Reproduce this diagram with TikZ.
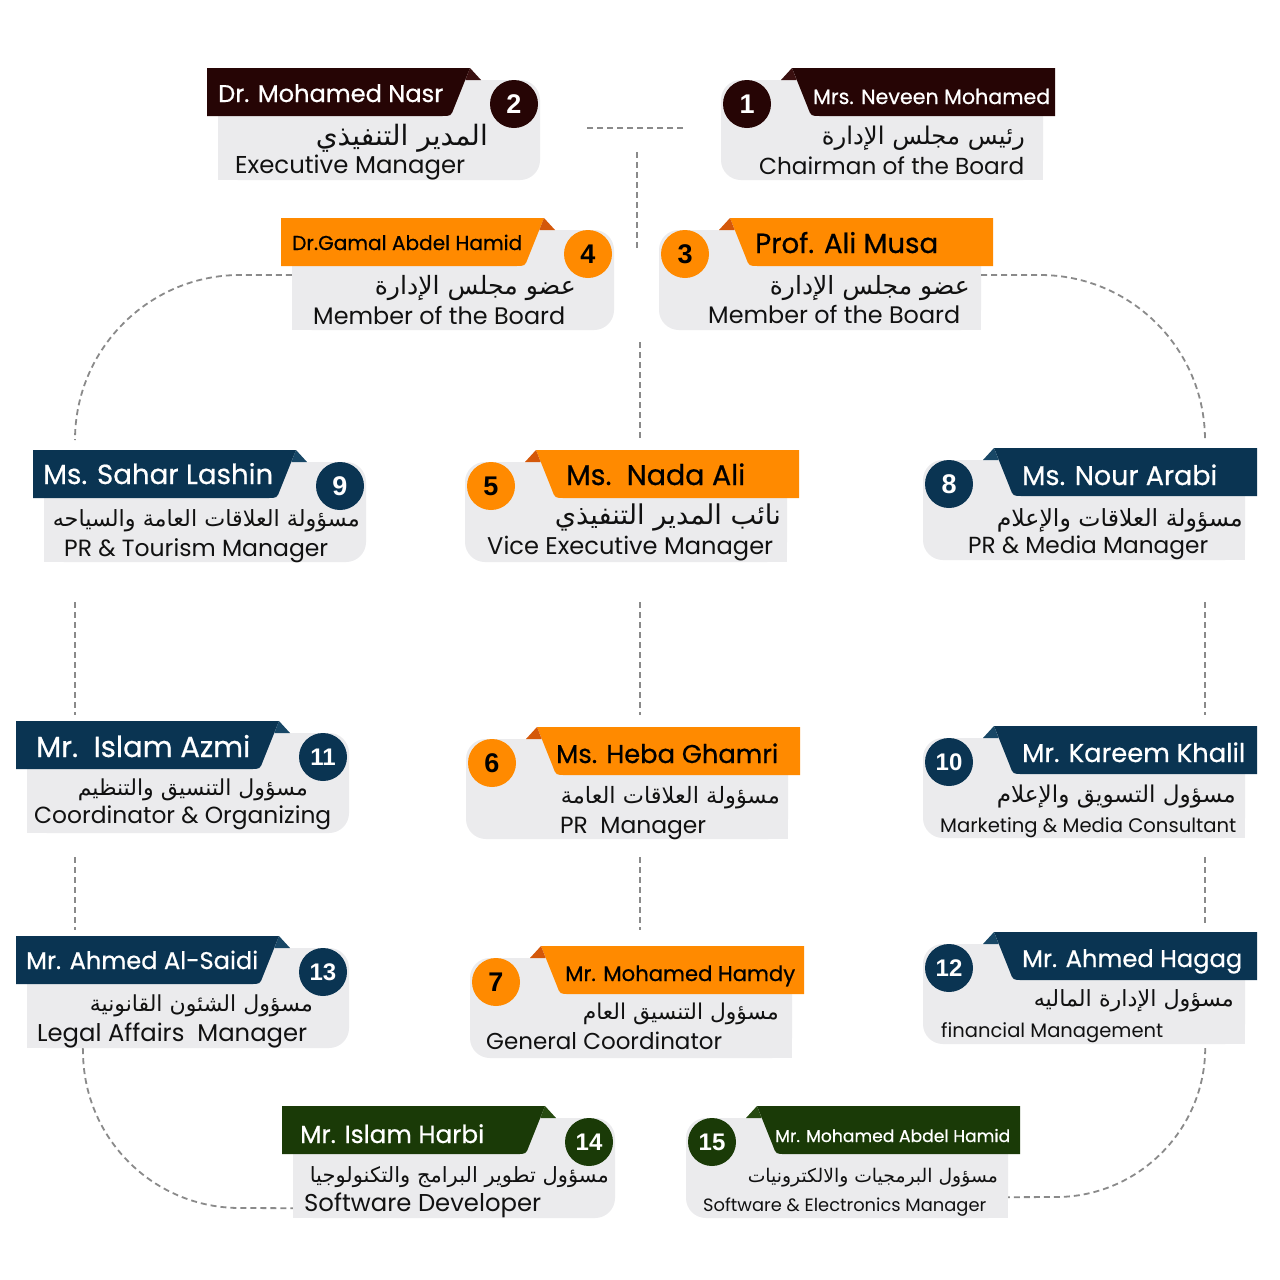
\documentclass[tikz,border=0pt]{standalone}
\usepackage{fontspec}
\usepackage{graphicx}
\setmainfont{Poppins}
\newfontfamily\namefont[FakeBold=0.6]{Poppins}
\newfontfamily\arabicfont[Script=Arabic]{DejaVu Sans}
\newfontfamily\numfont{Liberation Sans}
\TeXXeTstate=1
\definecolor{cardgray}{HTML}{EBEBED}
\definecolor{maroon}{HTML}{260505}
\definecolor{maroonf}{HTML}{3A1010}
\definecolor{orng}{HTML}{FF8A00}
\definecolor{orngf}{HTML}{D4580A}
\definecolor{navy}{HTML}{0A3452}
\definecolor{navyf}{HTML}{184766}
\definecolor{dgreen}{HTML}{1A3A07}
\definecolor{dgreenf}{HTML}{264A10}
\definecolor{connc}{HTML}{8A8A8A}
\definecolor{txtc}{HTML}{111111}
\newcommand{\fitw}[2]{\resizebox{#1pt}{!}{#2}}
\newcommand{\arab}[1]{{\arabicfont\beginR #1\endR}}
\tikzset{
  cardnode/.style={inner sep=0pt, minimum width=322pt, minimum height=100pt},
  numcircle/.style={circle, minimum size=48pt, inner sep=0pt, font=\numfont\bfseries\fontsize{27}{27}\selectfont},
  numtwo/.style={font=\numfont\bfseries\fontsize{24}{24}\selectfont},
  txt/.style={inner sep=0pt, text=txtc},
  nm/.style={inner sep=0pt, anchor=base west, font=\namefont},
  ar/.style={inner sep=0pt, anchor=east, text=txtc},
  en/.style={inner sep=0pt, anchor=base west, text=txtc},
  conn/.style={draw=connc, line width=1.8pt, dash pattern=on 6pt off 4pt},
}
% left-type card: header on the left, number on the right
\newcommand{\cardL}[8]{%
  \fill[cardgray,rounded corners=20pt] (#2,#3) rectangle (#2+322,#3+100);
  \fill[cardgray] (#2,#3) rectangle (#2+100,#3+100);
  \node[cardnode] (#1) at (#2+161,#3+50) {};
  \fill[#4] (#2-11,#3-12) -- (#2+252,#3-12) -- (#2+236,#3+28) .. controls (#2+233,#3+36) .. (#2+224,#3+36) -- (#2-11,#3+36) -- cycle;
  \fill[#5] (#2+252,#3-12) -- (#2+263,#3) -- (#2+247.3,#3) -- cycle;
  \node[numcircle,fill=#4,text=#7,#8] (#1n) at (#2+296,#3+24) {#6};
}
% right-type card: number on the left, header on the right
\newcommand{\cardR}[8]{%
  \fill[cardgray,rounded corners=20pt] (#2,#3) rectangle (#2+322,#3+100);
  \fill[cardgray] (#2+222,#3) rectangle (#2+322,#3+100);
  \node[cardnode] (#1) at (#2+161,#3+50) {};
  \fill[#4] (#2+334,#3-12) -- (#2+71,#3-12) -- (#2+87,#3+28) .. controls (#2+90,#3+36) .. (#2+99,#3+36) -- (#2+334,#3+36) -- cycle;
  \fill[#5] (#2+71,#3-12) -- (#2+60,#3) -- (#2+75.7,#3) -- cycle;
  \node[numcircle,fill=#4,text=#7,#8] (#1n) at (#2+26,#3+24) {#6};
}
\begin{document}
\begin{tikzpicture}[x=1pt,y=-1pt]
\useasboundingbox (0,0) rectangle (1280,1280);
\fill[white] (0,0) rectangle (1280,1280);

% free ends of the trunk lines
\coordinate (h1) at (587,128);
\coordinate (h2) at (685,128);
\coordinate (va1) at (637,152);
\coordinate (va2) at (637,250);
\coordinate (vb1) at (640,342);
\coordinate (vb2) at (640,440);
\coordinate (vc1) at (640,602);
\coordinate (vc2) at (640,715);
\coordinate (vd1) at (640,857);
\coordinate (vd2) at (640,930);
\coordinate (la1) at (75,602);
\coordinate (la2) at (75,715);
\coordinate (lb1) at (75,857);
\coordinate (lb2) at (75,930);
\coordinate (ra1) at (1205,602);
\coordinate (ra2) at (1205,715);
\coordinate (rb1) at (1205,857);
\coordinate (rb2) at (1205,926);
\coordinate (lt) at (75,440);
\coordinate (rt) at (1205,440);

% cards
\cardL{c2}{218}{80}{maroon}{maroonf}{2}{white}{}
\cardR{c1}{721}{80}{maroon}{maroonf}{1}{white}{}
\cardL{c4}{292}{230}{orng}{orngf}{4}{black}{}
\cardR{c3}{659}{230}{orng}{orngf}{3}{black}{}
\cardL{c9}{44}{462}{navy}{navyf}{9}{white}{}
\cardR{c5}{465}{462}{orng}{orngf}{5}{black}{}
\cardR{c8}{923}{460}{navy}{navyf}{8}{white}{}
\cardL{c11}{27}{733}{navy}{navyf}{11}{white}{numtwo}
\cardR{c6}{466}{739}{orng}{orngf}{6}{black}{}
\cardR{c10}{923}{738}{navy}{navyf}{10}{white}{numtwo}
\cardL{c13}{27}{948}{navy}{navyf}{13}{white}{numtwo}
\cardR{c7}{470}{958}{orng}{orngf}{7}{black}{}
\cardR{c12}{923}{944}{navy}{navyf}{12}{white}{numtwo}
\cardL{c14}{293}{1118}{dgreen}{dgreenf}{14}{white}{numtwo}
\cardR{c15}{686}{1118}{dgreen}{dgreenf}{15}{white}{numtwo}

% connectors
\draw[conn] (h1) -- (h2);
\draw[conn] (va1) -- (va2);
\draw[conn] (vb1) -- (vb2);
\draw[conn] (vc1) -- (vc2);
\draw[conn] (vd1) -- (vd2);
\draw[conn] (la1) -- (la2);
\draw[conn] (lb1) -- (lb2);
\draw[conn] (ra1) -- (ra2);
\draw[conn] (rb1) -- (rb2);
\draw[conn] ([yshift=5pt]c4.west) -- (240,275) .. controls (149,275) and (75,349) .. (lt);
\draw[conn] ([yshift=5pt]c3.east) -- (1040,275) .. controls (1131,275) and (1205,349) .. (rt);
\draw[conn] ([xshift=56pt]c13.south west) -- (83,1051) .. controls (83,1138) and (153,1208) .. (240,1208) -- ([yshift=10pt]c14.south west);
\draw[conn] ([xshift=-40pt,yshift=-4pt]c12.south east) .. controls (1205,1130) and (1138,1197) .. (1056,1197) -- ([yshift=21pt]c15.south east);

% texts card 2
\node[nm,text=white] (c2name) at (218,102) {\fitw{225}{Dr. Mohamed Nasr}};
\node[ar] (c2ar) at (488,138) {\fitw{172}{\arab{المدير التنفيذي}}};
\node[en] (c2en) at (235,173) {\fitw{230}{Executive Manager}};
% card 1
\node[nm,text=white] (c1name) at (813,104) {\fitw{237}{Mrs. Neveen Mohamed}};
\node[ar] (c1ar) at (1025,138) {\fitw{203}{\arab{رئيس مجلس الإدارة}}};
\node[en] (c1en) at (759,174) {\fitw{265}{Chairman of the Board}};
% card 4
\node[nm,text=black] (c4name) at (292,250) {\fitw{230}{Dr.Gamal Abdel Hamid}};
\node[ar] (c4ar) at (576,288) {\fitw{201}{\arab{عضو مجلس الإدارة}}};
\node[en] (c4en) at (313,324) {\fitw{252}{Member of the Board}};
% card 3
\node[nm,text=black] (c3name) at (755,253) {\fitw{183}{Prof. Ali Musa}};
\node[ar] (c3ar) at (970,288) {\fitw{200}{\arab{عضو مجلس الإدارة}}};
\node[en] (c3en) at (708,323) {\fitw{252}{Member of the Board}};
% card 9
\node[nm,text=white] (c9name) at (43,484) {\fitw{230}{Ms. Sahar Lashin}};
\node[ar] (c9ar) at (360,521) {\fitw{307}{\arab{مسؤولة العلاقات العامة والسياحه}}};
\node[en] (c9en) at (64,556) {\fitw{264}{PR \& Tourism Manager}};
% card 5
\node[nm,text=black] (c5name) at (566,485) {\fitw{179}{Ms.\ \ Nada Ali}};
\node[ar] (c5ar) at (781,517) {\fitw{226}{\arab{نائب المدير التنفيذي}}};
\node[en] (c5en) at (487,554) {\fitw{286}{Vice Executive Manager}};
% card 8
\node[nm,text=white] (c8name) at (1022,485) {\fitw{195}{Ms. Nour Arabi}};
\node[ar] (c8ar) at (1243,520) {\fitw{246}{\arab{مسؤولة العلاقات والإعلام}}};
\node[en] (c8en) at (968,553) {\fitw{240}{PR \& Media Manager}};
% card 11
\node[nm,text=white] (c11name) at (36,757) {\fitw{214}{Mr.\ \ Islam Azmi}};
\node[ar] (c11ar) at (308,790) {\fitw{230}{\arab{مسؤول التنسيق والتنظيم}}};
\node[en] (c11en) at (34,823) {\fitw{297}{Coordinator \& Organizing}};
% card 6
\node[nm,text=black] (c6name) at (556,763) {\fitw{222}{Ms. Heba Ghamri}};
\node[ar] (c6ar) at (780,798) {\fitw{219}{\arab{مسؤولة العلاقات العامة}}};
\node[en] (c6en) at (560,833) {\fitw{146}{PR\ \ Manager}};
% card 10
\node[nm,text=white] (c10name) at (1022,762) {\fitw{223}{Mr. Kareem Khalil}};
\node[ar] (c10ar) at (1236,797) {\fitw{239}{\arab{مسؤول التسويق والإعلام}}};
\node[en] (c10en) at (940,832) {\fitw{296}{Marketing \& Media Consultant}};
% card 13
\node[nm,text=white] (c13name) at (26,969) {\fitw{232}{Mr. Ahmed Al-Saidi}};
\node[ar] (c13ar) at (313,1006) {\fitw{223}{\arab{مسؤول الشئون القانونية}}};
\node[en] (c13en) at (37,1041) {\fitw{270}{Legal Affairs\ \ Manager}};
% card 7
\node[nm,text=black] (c7name) at (565,981) {\fitw{230}{Mr. Mohamed Hamdy}};
\node[ar] (c7ar) at (779,1014) {\fitw{196}{\arab{مسؤول التنسيق العام}}};
\node[en] (c7en) at (486,1049) {\fitw{236}{General Coordinator}};
% card 12
\node[nm,text=white] (c12name) at (1022,967) {\fitw{220}{Mr. Ahmed Hagag}};
\node[ar] (c12ar) at (1234,1001) {\fitw{200}{\arab{مسؤول الإدارة الماليه}}};
\node[en] (c12en) at (941,1037) {\fitw{222}{financial Management}};
% card 14
\node[nm,text=white] (c14name) at (300,1143) {\fitw{184}{Mr. Islam Harbi}};
\node[ar] (c14ar) at (609,1177) {\fitw{299}{\arab{مسؤول تطوير البرامج والتكنولوجيا}}};
\node[en] (c14en) at (304,1211) {\fitw{237}{Software Developer}};
% card 15
\node[nm,text=white] (c15name) at (775,1142) {\fitw{235}{Mr. Mohamed Abdel Hamid}};
\node[ar] (c15ar) at (998,1178) {\fitw{250}{\arab{مسؤول البرمجيات والالكترونيات}}};
\node[en] (c15en) at (703,1211) {\fitw{283}{Software \& Electronics Manager}};
\end{tikzpicture}
\end{document}
